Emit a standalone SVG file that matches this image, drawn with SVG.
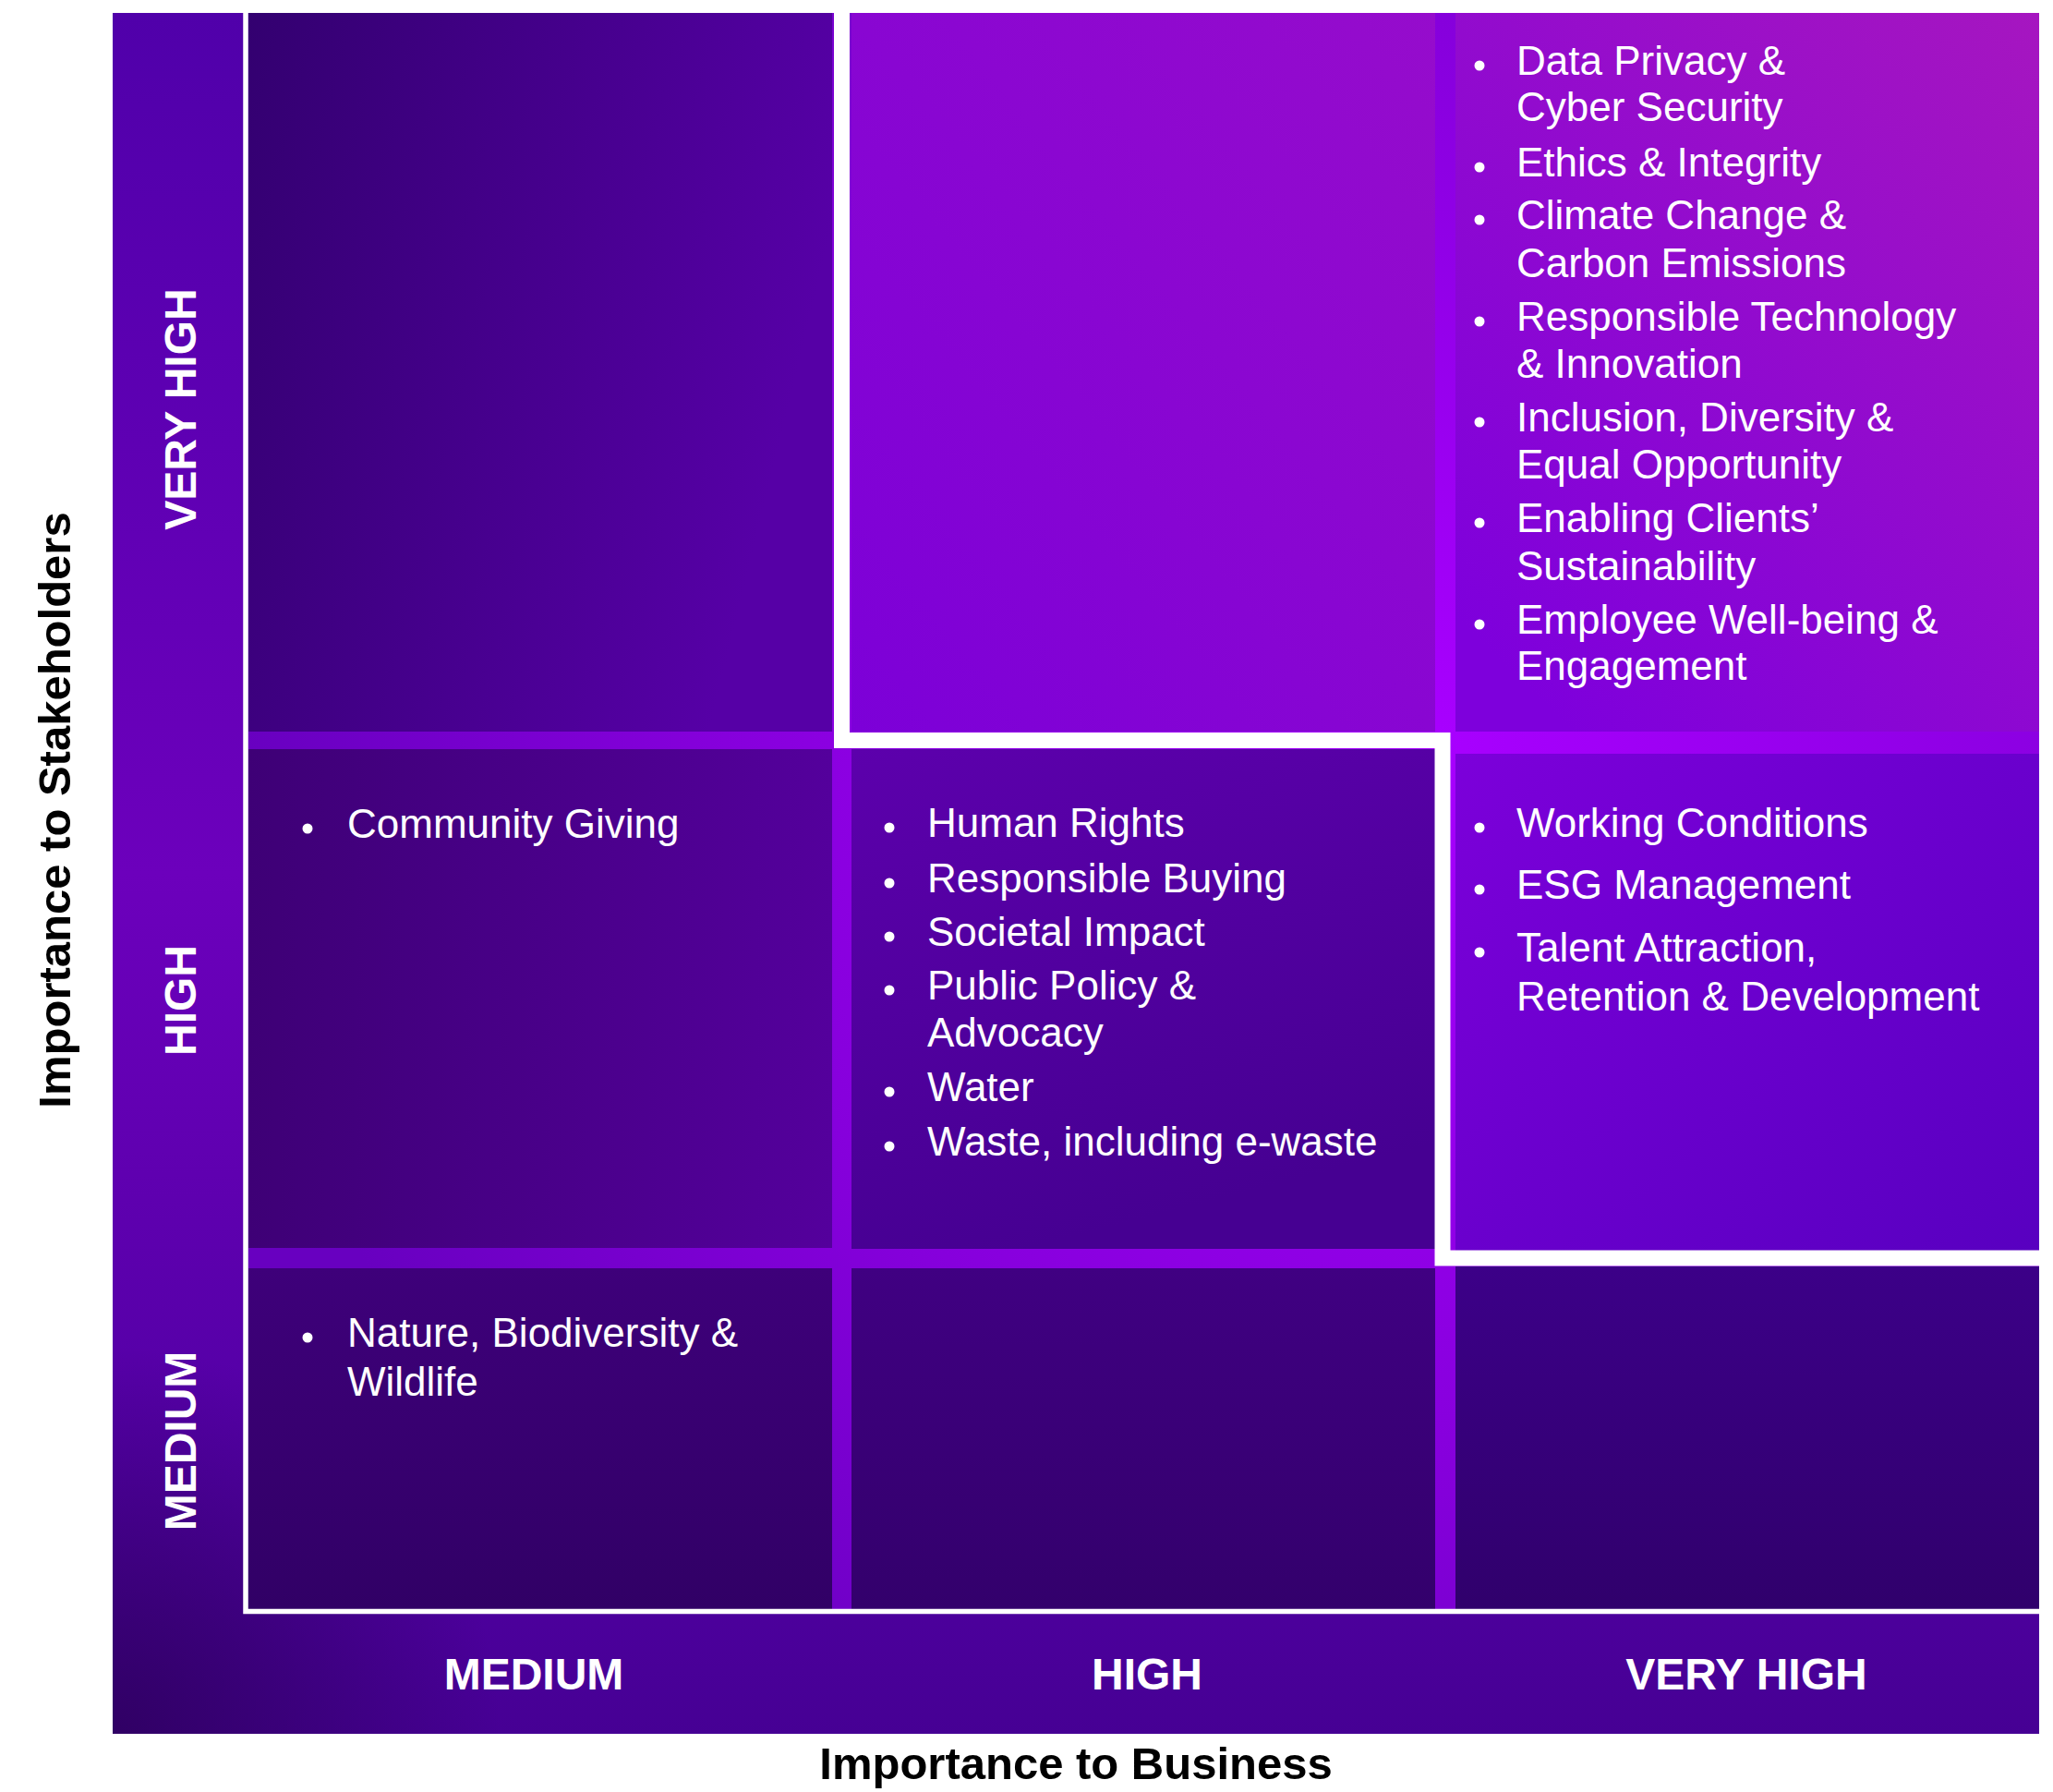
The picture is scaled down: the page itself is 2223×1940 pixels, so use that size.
<svg xmlns="http://www.w3.org/2000/svg" width="2223" height="1940" viewBox="0 0 2223 1940">
  <style>
    .item { font-family: "Liberation Sans", Arial, sans-serif; font-size: 44px; fill: #ffffff; }
    .axis { font-family: "Liberation Sans", Arial, sans-serif; font-size: 48px; font-weight: bold; fill: #ffffff; text-anchor: middle; }
    .title { font-family: "Liberation Sans", Arial, sans-serif; font-size: 49px; font-weight: bold; fill: #000000; text-anchor: middle; }
    .bullet { fill: #ffffff; }
    .border { fill: none; stroke: #ffffff; stroke-linejoin: miter; stroke-linecap: butt; }
  </style>
  <defs>
    <linearGradient id="gBand" gradientUnits="userSpaceOnUse" x1="0" y1="14" x2="0" y2="1877">
      <stop offset="0" stop-color="#5000aa"/>
      <stop offset="0.5" stop-color="#6c00bc"/>
      <stop offset="0.85" stop-color="#5200a4"/>
      <stop offset="1" stop-color="#460094"/>
    </linearGradient>
    <radialGradient id="gCorner" gradientUnits="userSpaceOnUse" cx="122" cy="1877" r="420">
      <stop offset="0" stop-color="#2c005c" stop-opacity="0.85"/>
      <stop offset="1" stop-color="#2c005c" stop-opacity="0"/>
    </radialGradient>
    <radialGradient id="gGrid" gradientUnits="userSpaceOnUse" cx="1565" cy="800" r="1300">
      <stop offset="0" stop-color="#a800ff"/>
      <stop offset="0.6" stop-color="#8600dc"/>
      <stop offset="1" stop-color="#6800c0"/>
    </radialGradient>
    <linearGradient id="g11" x1="0" y1="0" x2="1" y2="0.3">
      <stop offset="0" stop-color="#330070"/>
      <stop offset="1" stop-color="#5600a6"/>
    </linearGradient>
    <linearGradient id="g21" x1="0" y1="1" x2="1" y2="0">
      <stop offset="0" stop-color="#7c00d8"/>
      <stop offset="1" stop-color="#960ccc"/>
    </linearGradient>
    <linearGradient id="g31" x1="1" y1="0" x2="0.2" y2="1">
      <stop offset="0" stop-color="#a616c0"/>
      <stop offset="1" stop-color="#7e00dc"/>
    </linearGradient>
    <linearGradient id="g12" x1="0" y1="0" x2="1" y2="0">
      <stop offset="0" stop-color="#3e0076"/>
      <stop offset="1" stop-color="#54009c"/>
    </linearGradient>
    <linearGradient id="g22" x1="0" y1="0" x2="0.3" y2="1">
      <stop offset="0" stop-color="#5c00ac"/>
      <stop offset="1" stop-color="#460092"/>
    </linearGradient>
    <linearGradient id="g32" x1="0" y1="0" x2="1" y2="1">
      <stop offset="0" stop-color="#7c00da"/>
      <stop offset="1" stop-color="#5800c0"/>
    </linearGradient>
    <linearGradient id="g13" x1="0" y1="0" x2="0" y2="1">
      <stop offset="0" stop-color="#3e007a"/>
      <stop offset="1" stop-color="#310066"/>
    </linearGradient>
    <linearGradient id="g23" x1="0" y1="0" x2="0" y2="1">
      <stop offset="0" stop-color="#400082"/>
      <stop offset="1" stop-color="#33006c"/>
    </linearGradient>
    <linearGradient id="g33" x1="0" y1="0" x2="0" y2="1">
      <stop offset="0" stop-color="#3c0088"/>
      <stop offset="1" stop-color="#30006c"/>
    </linearGradient>
  </defs>

  <rect x="0" y="0" width="2223" height="1940" fill="#ffffff"/>

  <g id="background">
    <rect x="122" y="14" width="2086" height="1863" fill="url(#gBand)"/>
    <rect x="122" y="14" width="2086" height="1863" fill="url(#gCorner)"/>
    <rect x="269" y="14" width="1939" height="1728" fill="url(#gGrid)"/>
  </g>

  <g id="cell-medium-veryhigh">
    <rect x="269" y="14" width="632" height="778" fill="url(#g11)"/>
  </g>
  <g id="cell-high-veryhigh">
    <rect x="922" y="14" width="632" height="778" fill="url(#g21)"/>
  </g>
  <g id="cell-veryhigh-veryhigh">
    <rect x="1576" y="14" width="632" height="778" fill="url(#g31)"/>
    <circle class="bullet" cx="1602" cy="71" r="5.5"/>
    <text class="item" x="1642" y="81">Data Privacy &amp;</text>
    <text class="item" x="1642" y="131">Cyber Security</text>
    <circle class="bullet" cx="1602" cy="181" r="5.5"/>
    <text class="item" x="1642" y="191">Ethics &amp; Integrity</text>
    <circle class="bullet" cx="1602" cy="238" r="5.5"/>
    <text class="item" x="1642" y="248">Climate Change &amp;</text>
    <text class="item" x="1642" y="300">Carbon Emissions</text>
    <circle class="bullet" cx="1602" cy="348" r="5.5"/>
    <text class="item" x="1642" y="358">Responsible Technology</text>
    <text class="item" x="1642" y="409">&amp; Innovation</text>
    <circle class="bullet" cx="1602" cy="457" r="5.5"/>
    <text class="item" x="1642" y="467">Inclusion, Diversity &amp;</text>
    <text class="item" x="1642" y="518">Equal Opportunity</text>
    <circle class="bullet" cx="1602" cy="566" r="5.5"/>
    <text class="item" x="1642" y="576">Enabling Clients’</text>
    <text class="item" x="1642" y="628">Sustainability</text>
    <circle class="bullet" cx="1602" cy="676" r="5.5"/>
    <text class="item" x="1642" y="686">Employee Well-being &amp;</text>
    <text class="item" x="1642" y="736">Engagement</text>
  </g>

  <g id="cell-medium-high">
    <rect x="269" y="811" width="632" height="540" fill="url(#g12)"/>
    <circle class="bullet" cx="333" cy="897" r="5.5"/>
    <text class="item" x="376" y="907">Community Giving</text>
  </g>
  <g id="cell-high-high">
    <rect x="922" y="811" width="632" height="541" fill="url(#g22)"/>
    <circle class="bullet" cx="963" cy="896" r="5.5"/>
    <text class="item" x="1004" y="906">Human Rights</text>
    <circle class="bullet" cx="963" cy="956" r="5.5"/>
    <text class="item" x="1004" y="966">Responsible Buying</text>
    <circle class="bullet" cx="963" cy="1014" r="5.5"/>
    <text class="item" x="1004" y="1024">Societal Impact</text>
    <circle class="bullet" cx="963" cy="1072" r="5.5"/>
    <text class="item" x="1004" y="1082">Public Policy &amp;</text>
    <text class="item" x="1004" y="1133">Advocacy</text>
    <circle class="bullet" cx="963" cy="1182" r="5.5"/>
    <text class="item" x="1004" y="1192">Water</text>
    <circle class="bullet" cx="963" cy="1241" r="5.5"/>
    <text class="item" x="1004" y="1251">Waste, including e-waste</text>
  </g>
  <g id="cell-veryhigh-high">
    <rect x="1576" y="816" width="632" height="538" fill="url(#g32)"/>
    <circle class="bullet" cx="1602" cy="896" r="5.5"/>
    <text class="item" x="1642" y="906">Working Conditions</text>
    <circle class="bullet" cx="1602" cy="963" r="5.5"/>
    <text class="item" x="1642" y="973">ESG Management</text>
    <circle class="bullet" cx="1602" cy="1031" r="5.5"/>
    <text class="item" x="1642" y="1041">Talent Attraction,</text>
    <text class="item" x="1642" y="1094">Retention &amp; Development</text>
  </g>

  <g id="cell-medium-medium">
    <rect x="269" y="1373" width="632" height="369" fill="url(#g13)"/>
    <circle class="bullet" cx="333" cy="1448" r="5.5"/>
    <text class="item" x="376" y="1458">Nature, Biodiversity &amp;</text>
    <text class="item" x="376" y="1511">Wildlife</text>
  </g>
  <g id="cell-high-medium">
    <rect x="922" y="1373" width="632" height="369" fill="url(#g23)"/>
  </g>
  <g id="cell-veryhigh-medium">
    <rect x="1576" y="1371" width="632" height="371" fill="url(#g33)"/>
  </g>

  <g id="connectors">
    <path class="border" stroke-width="5.5" d="M266,14 V1744.5 H2208"/>
    <path class="border" stroke-width="17" d="M911.5,14 V801.5 H1562 V1362 H2208"/>
  </g>

  <g id="axis-y-levels">
    <text class="axis" transform="translate(212,443) rotate(-90)">VERY HIGH</text>
    <text class="axis" transform="translate(212,1083) rotate(-90)">HIGH</text>
    <text class="axis" transform="translate(212,1560) rotate(-90)">MEDIUM</text>
  </g>
  <g id="axis-x-levels">
    <text class="axis" x="578" y="1829">MEDIUM</text>
    <text class="axis" x="1242" y="1829">HIGH</text>
    <text class="axis" x="1891" y="1829">VERY HIGH</text>
  </g>
  <g id="axis-titles">
    <text class="title" transform="translate(76,877) rotate(-90)">Importance to Stakeholders</text>
    <text class="title" x="1165" y="1926">Importance to Business</text>
  </g>
</svg>
